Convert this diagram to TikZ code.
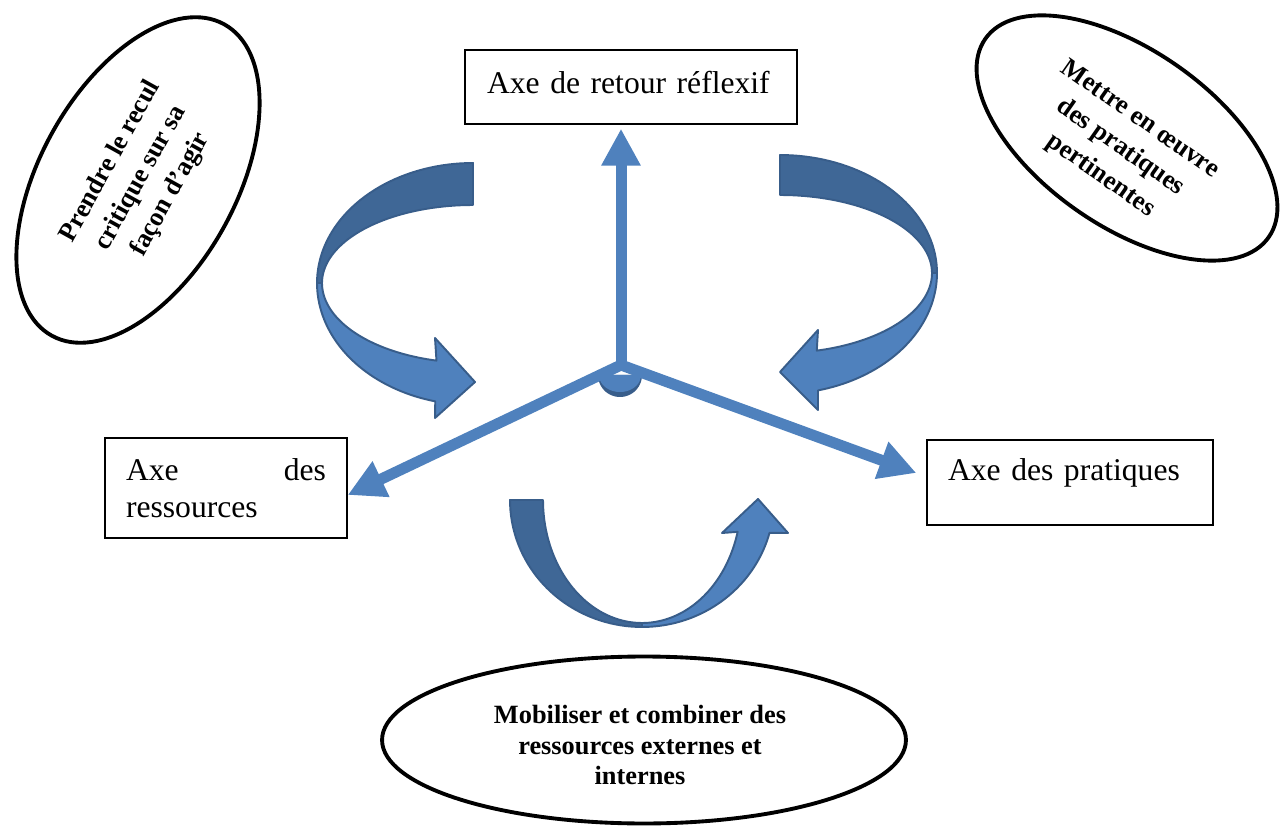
\documentclass[tikz,border=0pt]{standalone}
\usepackage{fontspec}
\setmainfont{Liberation Serif}
\usetikzlibrary{arrows.meta,shapes.geometric,calc}
\definecolor{lblue}{HTML}{4F81BD}
\definecolor{dblue}{HTML}{3F6796}
\definecolor{oblue}{HTML}{385D8A}
\begin{document}
\begin{tikzpicture}[x=0.02cm,y=-0.02cm,
  box/.style={draw=black, line width=0.8pt, fill=white, inner ysep=0pt, font=\fontsize{18}{21}\selectfont, align=left},
  oval/.style={draw=black, line width=2.2pt, ellipse, inner sep=0pt},
  ovaltext/.style={font=\fontsize{15}{19.5}\selectfont\bfseries, align=center, inner sep=0pt},
  axis/.style={draw=lblue, line width=0.22cm, line cap=round, -{Triangle[length=0.74cm,width=0.74cm]}},
  band/.style={draw=oblue, line width=1.1pt, line join=round},
  smp/.style={samples=40, variable=\t},
]
\useasboundingbox (0,0) rectangle (1281,827);

% curved arrow upper left
\filldraw[band, fill=dblue] plot[smp, domain=270:180] ({473+156*cos(\t)},{283+120*sin(\t)})
  -- plot[smp, domain=180:270] ({473+151*cos(\t)},{283+78*sin(\t)}) -- cycle;
\filldraw[band, fill=lblue] plot[smp, domain=180:104] ({473+156*cos(\t)},{283+122*sin(\t)})
  -- (435,418) -- (475,382) -- (435,338)
  -- plot[smp, domain=104:180] ({473+151*cos(\t)},{283+80*sin(\t)}) -- cycle;

% curved arrow upper right
\filldraw[band, fill=dblue] plot[smp, domain=270:360] ({780+157*cos(\t)},{273+118*sin(\t)})
  -- plot[smp, domain=360:270] ({780+152*cos(\t)},{273+78*sin(\t)}) -- cycle;
\filldraw[band, fill=lblue] plot[smp, domain=0:76] ({780+157*cos(\t)},{273+121*sin(\t)})
  -- (818,410) -- (780,372) -- (818,330)
  -- plot[smp, domain=76:0] ({780+152*cos(\t)},{273+80*sin(\t)}) -- cycle;

% curved arrow bottom
\filldraw[band, fill=dblue] plot[smp, domain=180:90] ({642+132*cos(\t)},{500+127*sin(\t)})
  -- plot[smp, domain=90:180] ({642+99*cos(\t)},{500+123*sin(\t)}) -- cycle;
\filldraw[band, fill=lblue] plot[smp, domain=90:15] ({642+132*cos(\t)},{500+127*sin(\t)})
  -- (788,533) -- (758,499) -- (722,533)
  -- plot[smp, domain=15:90] ({642+99*cos(\t)},{500+123*sin(\t)}) -- cycle;

% boxes
\node[box, text width=5.76cm, inner xsep=0.44cm, minimum height=1.48cm, text height=13pt, text depth=6pt] (ret) at (631,87) {Axe de retour réflexif};
\node[box, text width=4cm, inner xsep=0.42cm, minimum height=2cm] (res) at (226,488) {Axe\hfill des\\ressources};
\node[box, text width=4.88cm, inner xsep=0.42cm, minimum height=1.7cm, text height=12.5pt, text depth=15pt] (prat) at (1070,482.5) {Axe des pratiques};

% axes
\coordinate (O) at (621,365);
\coordinate (tipU) at ($(ret.south)+(-10,4)$);
\coordinate (tipL) at ($(res.east)+(0,7)$);
\coordinate (tipR) at ($(prat.west)+(-10,-9.5)$);
\fill[oblue] plot[samples=30, variable=\t, domain=0:180] ({620+22*cos(\t)},{375+22*sin(\t)}) -- cycle;
\fill[lblue] plot[samples=30, variable=\t, domain=0:180] ({620+21*cos(\t)},{375+17*sin(\t)}) -- cycle;
\draw[axis] (O) -- (tipU);
\draw[axis] (O) -- (tipL);
\draw[axis] (O) -- (tipR);

% ellipses
\node[oval, minimum width=7.12cm, minimum height=3.92cm, rotate=61] (e1) at (138,180) {};
\node[ovaltext, rotate=61] (t1) at (141,178) {Prendre le recul\\critique sur sa\\façon d’agir};
\node[oval, minimum width=6.92cm, minimum height=3.52cm, rotate=-35] (e2) at (1127,138) {};
\node[ovaltext, rotate=-35] (t2) at (1120,148) {Mettre en œuvre\\des pratiques\\pertinentes};
\node[oval, minimum width=10.48cm, minimum height=3.34cm] (e3) at (644,740) {};
\node[ovaltext, font=\fontsize{15}{17.5}\selectfont\bfseries] (t3) at (640,745) {Mobiliser et combiner des\\ressources externes et\\internes};
\end{tikzpicture}
\end{document}
